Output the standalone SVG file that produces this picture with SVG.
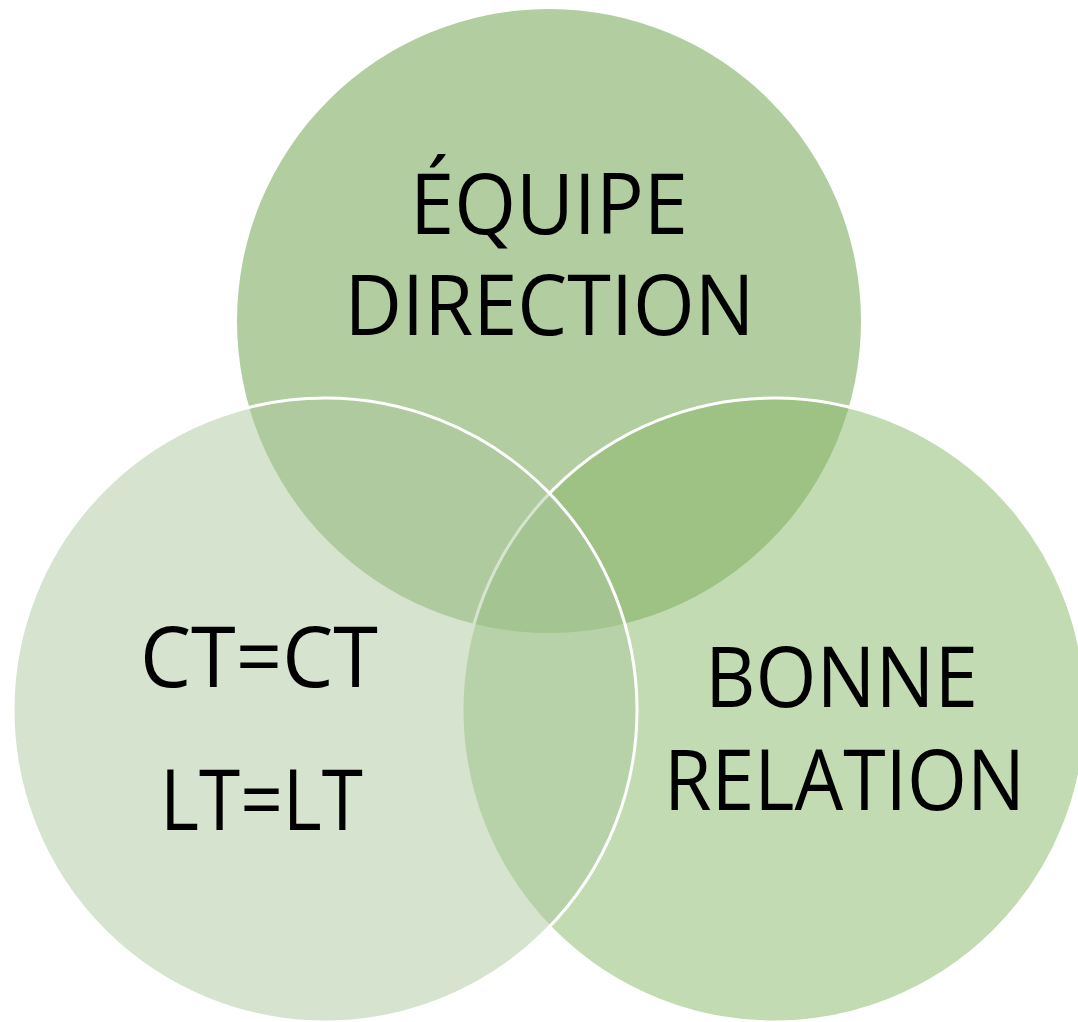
<svg xmlns="http://www.w3.org/2000/svg" width="1078" height="1022" viewBox="0 0 1078 1022">
<style>
.lbl{font-family:"Open Sans","Noto Sans","Liberation Sans",sans-serif;font-size:84px;fill:#000;text-anchor:middle}
.edge{stroke:#fff;stroke-width:3}
</style>
<rect width="1078" height="1022" fill="#fff"/>
<g id="top-circle">
<circle cx="549" cy="321" r="312" fill="#b2cd9f"/>
</g>
<g id="right-circle">
<circle cx="774" cy="710" r="312" fill="#87b767" fill-opacity="0.5" class="edge"/>
</g>
<g id="left-circle">
<circle cx="325" cy="710" r="312" fill="#abc79f" fill-opacity="0.5" class="edge"/>
</g>
<g id="connectors"></g>
<g id="labels">
<text class="lbl" x="549" y="234" textLength="278" lengthAdjust="spacingAndGlyphs">ÉQUIPE</text>
<text class="lbl" x="549.5" y="335" textLength="410" lengthAdjust="spacingAndGlyphs">DIRECTION</text>
<text class="lbl" x="259" y="687" textLength="238" lengthAdjust="spacingAndGlyphs">CT=CT</text>
<text class="lbl" x="261.5" y="830" textLength="203" lengthAdjust="spacingAndGlyphs">LT=LT</text>
<text class="lbl" x="841.5" y="707" textLength="273" lengthAdjust="spacingAndGlyphs">BONNE</text>
<text class="lbl" x="844.5" y="810" textLength="361" lengthAdjust="spacingAndGlyphs">RELATION</text>
</g>
</svg>
